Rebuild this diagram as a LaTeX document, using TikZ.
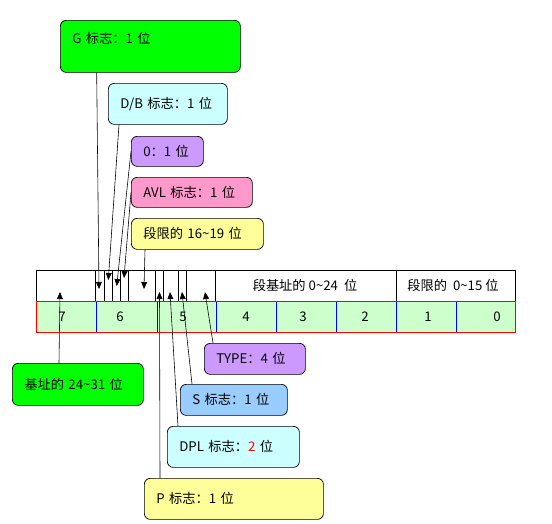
\documentclass[tikz,border=0pt]{standalone}
\usepackage{fontspec}
\setmainfont{Noto Sans CJK SC}
\usetikzlibrary{arrows.meta}

\definecolor{gboxfill}{RGB}{0,255,0}
\definecolor{cyanfill}{RGB}{204,255,255}
\definecolor{violetfill}{RGB}{204,153,255}
\definecolor{pinkfill}{RGB}{255,153,204}
\definecolor{yellowfill}{RGB}{255,255,153}
\definecolor{bluefill}{RGB}{153,204,255}
\definecolor{cellgreen}{RGB}{204,255,204}

\tikzset{
  tag/.style={draw, line width=0.6pt, rounded corners=5pt, anchor=north west,
    inner xsep=0.36cm, inner ysep=0pt, align=left},
  pin/.style={-{Triangle[length=6pt,width=5pt]}, line width=0.5pt},
}

\begin{document}
\begin{tikzpicture}[x=0.03cm, y=-0.03cm, font=\fontsize{11.3}{13}\selectfont]
\useasboundingbox (0,0) rectangle (552,523);
% descriptor table
\draw[black, line width=0.6pt] (36,270) rectangle (515,301);
\foreach \x in {95,104,112,120,128,155,163,178,186,215,396} {
 \draw[black, line width=0.6pt] (\x,270) -- (\x,301);
}
\fill[cellgreen] (36,301) rectangle (515,332);
\foreach \x in {96,157,216,276,336,396,456} {
 \draw[blue, line width=0.6pt] (\x,301) -- (\x,332);
}
\draw[red, line width=0.6pt] (36,301) rectangle (515,332);
\foreach \n/\x in {7/62,6/120,5/183,4/246,3/303,2/365,1/428,0/497} {
 \node (c\n) at (\x,317) {\n};
}
\node (base024) at (305,285) {段基址的 0\textasciitilde24\ \ 位};
\node (lim015) at (453,285) {段限的\ \ 0\textasciitilde15 位};

% upper tags
\node[tag, fill=gboxfill, text width=4.68cm, minimum height=1.56cm, text depth=0.5cm] (gflag) at (60,20) {G 标志：1 位};
\node[tag, fill=cyanfill, text width=2.85cm, minimum height=1.23cm] (dbflag) at (108,83) {D/B 标志：1 位};
\node[tag, fill=violetfill, text width=1.44cm, minimum height=0.9cm] (zero) at (131,136) {0：1 位};
\node[tag, fill=pinkfill, text width=2.91cm, minimum height=0.9cm] (avl) at (131,177) {AVL 标志：1 位};
\node[tag, fill=yellowfill, text width=3.24cm, minimum height=0.93cm] (lim1619) at (131,218) {段限的 16\textasciitilde19 位};

% lower tags
\node[tag, fill=gboxfill, text width=3.21cm, minimum height=1.26cm] (base2431) at (12,363) {基址的 24\textasciitilde31 位};
\node[tag, fill=violetfill, text width=2.31cm, minimum height=0.93cm] (type) at (204,343) {TYPE：4 位};
\node[tag, fill=bluefill, text width=2.49cm, minimum height=0.93cm] (sflag) at (180,384) {S 标志：1 位};
\node[tag, fill=cyanfill, text width=3.24cm, minimum height=1.23cm] (dpl) at (167,426) {DPL 标志：\textcolor{red}{2} 位};
\node[tag, fill=yellowfill, text width=4.65cm, minimum height=1.23cm] (pflag) at (144,478) {P 标志：1 位};

% arrow tips in the table
\coordinate (gtip) at (99,289);
\coordinate (dbtip) at (108.3,280);
\coordinate (zerotip) at (116.7,286);
\coordinate (avltip) at (124,278);
\coordinate (limtip) at (144,289);
\coordinate (basetip) at (60,292);
\coordinate (ptip) at (159.5,292);
\coordinate (dpltip) at (170,292);
\coordinate (stip) at (182,292);
\coordinate (typetip) at (205,292);

\draw[pin] ([xshift=1.1cm]gflag.south west) -- (gtip);
\draw[pin] ([xshift=0.33cm]dbflag.south west) -- (dbtip);
\draw[pin] (zero.west) -- (zerotip);
\draw[pin] (avl.west) -- (avltip);
\draw[pin] ([xshift=0.42cm]lim1619.south west) -- (limtip);
\draw[pin] ([xshift=1.41cm]base2431.north west) -- (basetip);
\draw[pin] ([xshift=0.27cm]type.north west) -- (typetip);
\draw[pin] ([xshift=0.36cm]sflag.north west) -- (stip);
\draw[pin] ([xshift=0.33cm]dpl.north west) -- (dpltip);
\draw[pin] ([xshift=0.48cm]pflag.north west) -- (ptip);
\end{tikzpicture}
\end{document}
